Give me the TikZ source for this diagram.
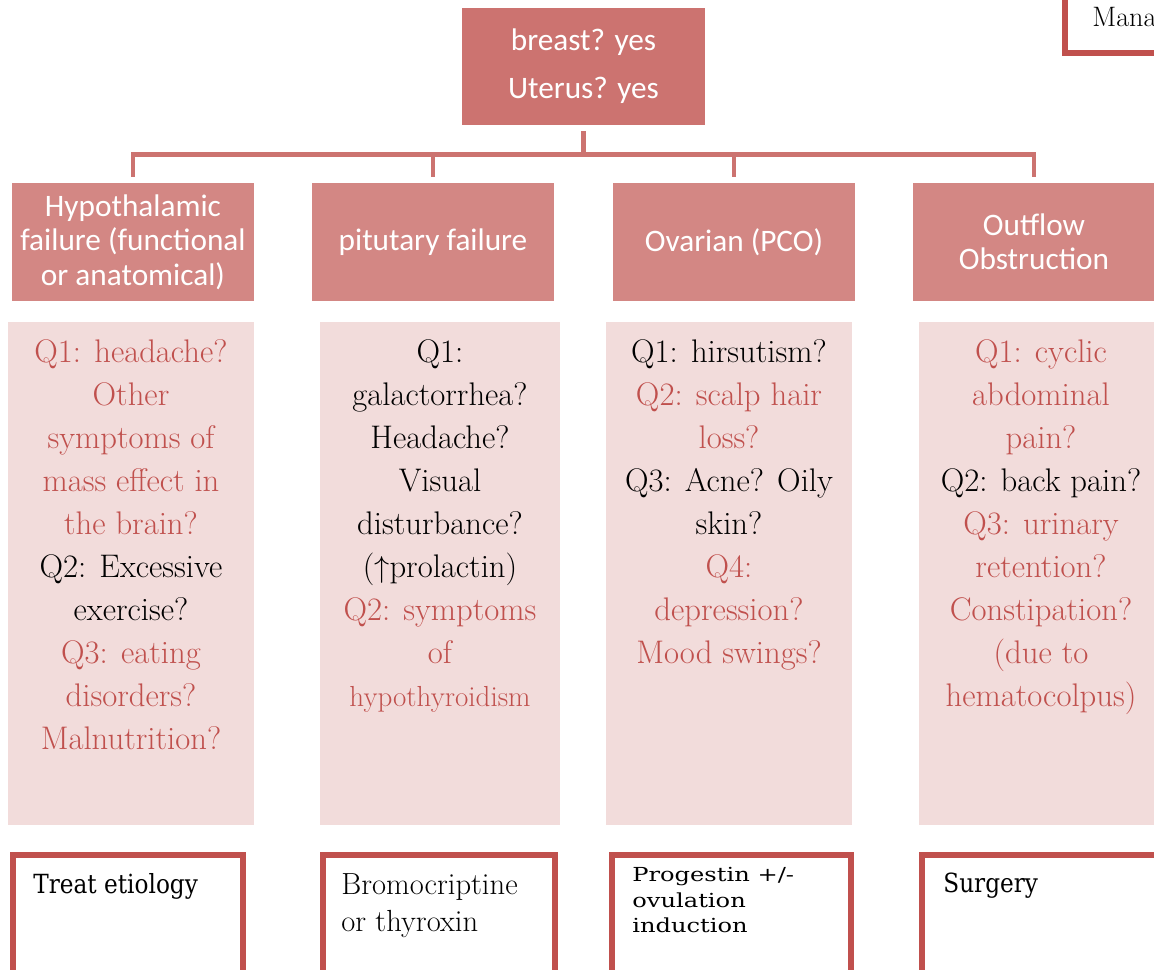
\documentclass[tikz,border=0pt]{standalone}
\usepackage{fontspec}
\usepackage{xcolor}
\usetikzlibrary{positioning, calc}
\newfontfamily\hdrfont{Carlito}
\newfontfamily\slabfont[FakeStretch=0.88]{DejaVu Serif}
\newfontfamily\wideslab[FakeStretch=1.25]{DejaVu Serif}
\definecolor{RoseTop}{HTML}{CC7370}
\definecolor{RoseHead}{HTML}{D38784}
\definecolor{Blush}{HTML}{F2DCDB}
\definecolor{Brick}{HTML}{C0504D}
\newcommand{\qred}[1]{\textcolor{Brick}{#1}}

\tikzset{
  rootbox/.style={rectangle, fill=RoseTop, text=white, minimum width=4.86cm,
                  minimum height=2.34cm, align=center,
                  font=\hdrfont\fontsize{17.8}{27.2}\selectfont},
  hdrbox/.style={rectangle, fill=RoseHead, text=white, minimum width=4.84cm,
                 minimum height=2.36cm, align=center,
                 font=\hdrfont\fontsize{17.8}{19.6}\selectfont},
  qbox/.style={rectangle, fill=Blush, minimum height=10.06cm, anchor=north},
  qtext/.style={inner sep=0pt, anchor=north, align=center,
                font=\fontsize{18.6}{24.5}\selectfont},
  rxbox/.style={rectangle, draw=Brick, line width=3.4pt, fill=white,
                minimum height=2.6cm, anchor=north},
  rxtext/.style={inner sep=0pt, anchor=north west, align=left},
  link/.style={draw=RoseTop, line width=2.8pt},
}

\begin{document}
\begin{tikzpicture}
    \useasboundingbox (0,0) rectangle (23.08,-19.4);
    \clip (0,0) rectangle (23.08,-19.4);

    % Root question
    \node[rootbox] (root) at (11.67,-1.33) {breast? yes\\Uterus? yes};

    % Corner box, cut off at the edge
    \node[rxbox, anchor=south west, minimum width=4cm, minimum height=2cm]
        (mgmt) at (21.24,-1.12) {};
    \node[inner sep=0pt, anchor=base west, font=\fontsize{16}{20}\selectfont]
        (mgmttxt) at ($(mgmt.south west)+(0.6,0.58)$) {Mana};

    % Four causes
    \node[hdrbox] (h1) at (2.66,-4.84) {Hypothalamic\\failure (functional\\or anatomical)};
    \node[hdrbox] (h2) at (8.66,-4.84) {pitutary failure};
    \node[hdrbox] (h3) at (14.68,-4.84) {Ovarian (PCO)};
    \node[hdrbox] (h4) at (20.68,-4.84) {Outflow\\Obstruction};

    % Connectors
    \coordinate (bus) at (11.67,-3.09);
    \draw[link] ([yshift=-0.12cm]root.south) -- (bus);
    \draw[link, line cap=rect] (h1.north |- bus) -- (h4.north |- bus);
    \draw[link] (h1.north |- bus) -- ([yshift=0.12cm]h1.north);
    \draw[link] (h2.north |- bus) -- ([yshift=0.12cm]h2.north);
    \draw[link] (h3.north |- bus) -- ([yshift=0.12cm]h3.north);
    \draw[link] (h4.north |- bus) -- ([yshift=0.12cm]h4.north);

    % Questions
    \node[qbox, minimum width=4.92cm] (q1) at (2.62,-6.44) {};
    \node[qbox, minimum width=4.80cm] (q2) at (8.80,-6.44) {};
    \node[qbox, minimum width=4.92cm] (q3) at (14.58,-6.44) {};
    \node[qbox, minimum width=4.88cm] (q4) at (20.82,-6.44) {};

    \node[qtext, below=0.34cm of q1.north] (q1txt)
        {\qred{Q1: headache?}\\\qred{Other}\\\qred{symptoms of}\\\qred{mass effect in}\\\qred{the brain?}\\
         Q2: Excessive\\exercise?\\
         \qred{Q3: eating}\\\qred{disorders?}\\\qred{Malnutrition?}};
    \node[qtext, below=0.34cm of q2.north] (q2txt)
        {Q1:\\galactorrhea?\\Headache?\\Visual\\disturbance?\\($\uparrow$prolactin)\\
         \qred{Q2: symptoms}\\\qred{of}\\\qred{\fontsize{16.5}{24.5}\selectfont hypothyroidism}};
    \node[qtext, below=0.34cm of q3.north] (q3txt)
        {Q1: hirsutism?\\
         \qred{Q2: scalp hair}\\\qred{loss?}\\
         Q3: Acne? Oily\\skin?\\
         \qred{Q4:}\\\qred{depression?}\\\qred{Mood swings?}};
    \node[qtext, below=0.34cm of q4.north] (q4txt)
        {\qred{Q1: cyclic}\\\qred{abdominal}\\\qred{pain?}\\
         Q2: back pain?\\
         \qred{Q3: urinary}\\\qred{retention?}\\\qred{Constipation?}\\\qred{(due to}\\\qred{hematocolpus)}};

    % Treatments
    \node[rxbox, minimum width=4.60cm] (t1) at (2.56,-17.04) {};
    \node[rxbox, minimum width=4.64cm] (t2) at (8.78,-17.04) {};
    \node[rxbox, minimum width=4.78cm] (t3) at (14.63,-17.04) {};
    \node[rxbox, minimum width=4.96cm] (t4) at (20.92,-17.04) {};

    \node[rxtext, font=\slabfont\fontsize{15}{18}\selectfont,
          below right=0.42cm and 0.46cm of t1.north west] (t1txt) {Treat etiology};
    \node[rxtext, font=\fontsize{17.4}{21}\selectfont,
          below right=0.42cm and 0.42cm of t2.north west] (t2txt) {Bromocriptine\\or thyroxin};
    \node[rxtext, font=\wideslab\fontsize{11}{14.5}\selectfont,
          below right=0.30cm and 0.46cm of t3.north west] (t3txt) {Progestin +/-\\ovulation\\induction};
    \node[rxtext, font=\slabfont\fontsize{15}{18}\selectfont,
          below right=0.42cm and 0.48cm of t4.north west] (t4txt) {Surgery};
\end{tikzpicture}
\end{document}
